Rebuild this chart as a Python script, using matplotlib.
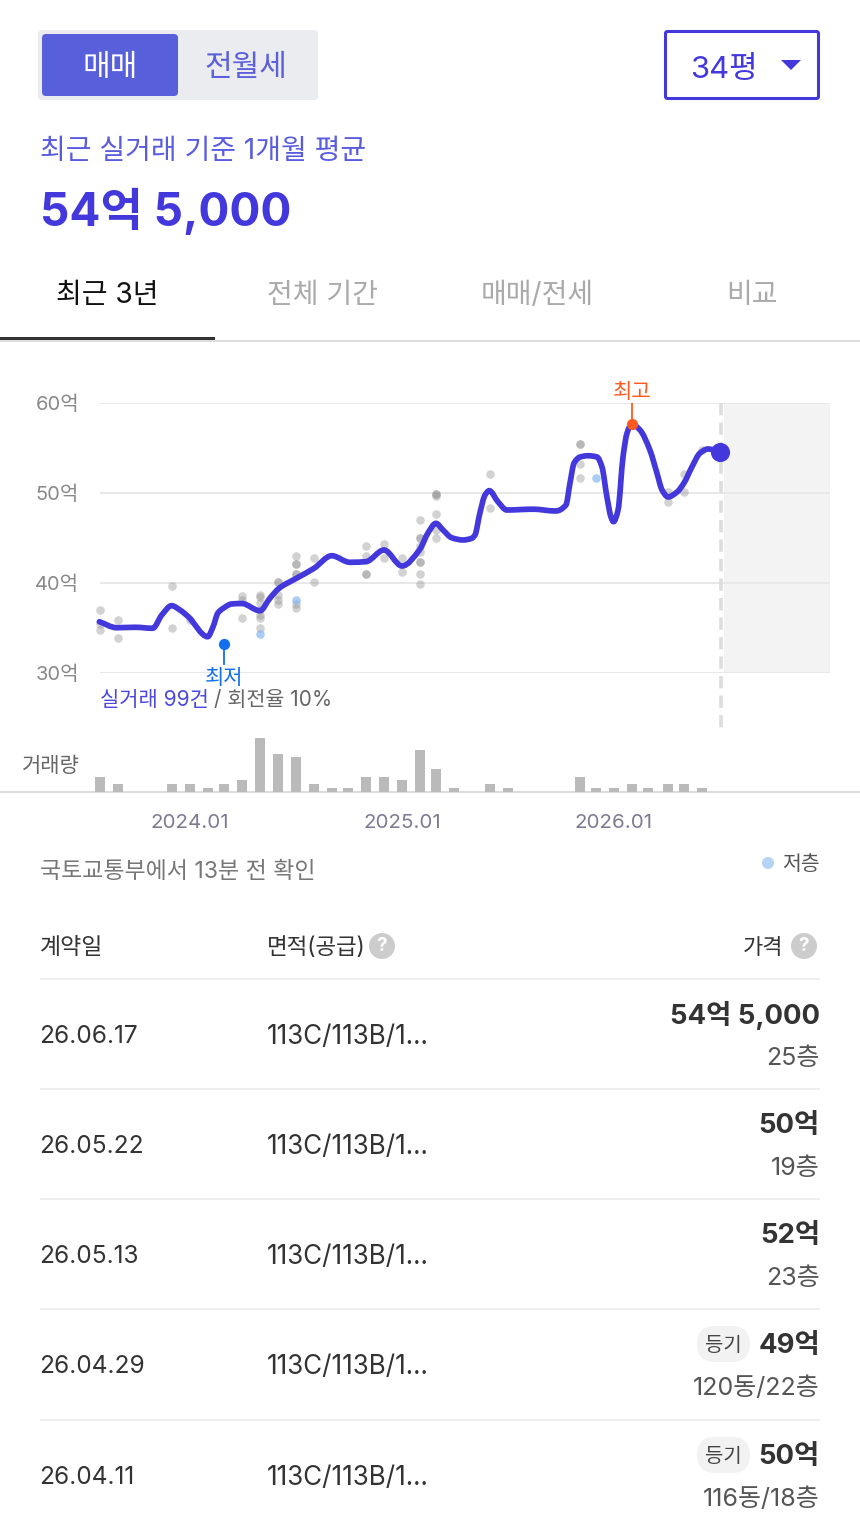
import matplotlib
matplotlib.use("Agg")
import matplotlib.pyplot as plt
import numpy as np
from matplotlib.patches import FancyBboxPatch, Rectangle, Circle, Polygon, PathPatch
from matplotlib.path import Path

plt.rcParams['font.family'] = ['Inter', 'Noto Sans CJK KR', 'DejaVu Sans']

W, H = 860, 1530

# months counted from 2024.01
line_months = [-5.13, -4.15, -3.11, -2.11, -1.6, -1.04, -0.57, -0.1, 1.0, 1.3, 1.58, 1.88, 2.36, 2.93, 3.96, 4.53, 5.04,
               6.0, 7.02, 8.02, 9.05, 9.96, 10.98, 12.0, 13.02, 13.47, 13.92, 14.32, 14.81, 15.45, 15.95, 16.13, 16.41,
               16.7, 16.94, 17.43, 17.93, 19.41, 20.7, 21.28, 21.51, 21.74, 22.08, 22.53, 23.04, 23.32, 23.6, 23.83,
               23.97, 24.23, 24.51, 24.74, 25.0, 25.47, 26.03, 26.43, 26.72, 27.06, 27.57, 27.96, 28.41, 28.87, 29.32,
               30.0]
line_prices = [35.7, 35.03, 35.08, 34.97, 36.44, 37.48, 37.0, 36.26, 34.03, 35.11, 36.67, 37.19, 37.67, 37.72, 36.92,
               38.33, 39.41, 40.5, 41.63, 43.03, 42.3, 42.37, 43.67, 41.89, 43.78, 45.56, 46.63, 45.89, 45.03, 44.78,
               44.97, 45.33, 47.78, 49.78, 50.26, 49.03, 48.11, 48.2, 48.0, 48.67, 51.11, 53.33, 54.0, 54.14, 54.0,
               52.89, 49.56, 47.33, 46.81, 48.11, 54.0, 56.67, 57.67, 57.0, 54.78, 52.22, 50.33, 49.56, 50.11, 51.11,
               52.89, 54.44, 54.89, 54.56]

deal_months = [-5.09, -5.09, -5.09, -4.07, -4.07, -1.02, -1.02, 0, 2.94, 2.94, 2.94,
               3.96, 3.96, 3.96, 3.96, 3.96, 3.96, 3.96, 4.98, 4.98, 4.98, 4.98, 4.98,
               6, 6, 6, 6, 6, 6, 6, 7.02, 7.02, 9.96, 9.96, 9.96, 9.96, 10.98, 10.98, 12, 12,
               13.02, 13.02, 13.02, 13.02, 13.02, 13.02, 13.02, 13.02, 13.02,
               13.92, 13.92, 13.92, 13.92, 13.92, 13.92, 16.98, 16.98, 22.07, 22.07, 22.07, 22.07,
               27.05, 27.05, 27.96, 27.96, 28.98]
deal_prices = [37.0, 35.44, 34.8, 35.9, 33.9, 39.7, 35.0, 35.9, 38.6, 38.1, 36.1,
               38.7, 38.5, 37.8, 37.0, 36.5, 36.1, 35.0, 40.1, 40.1, 38.7, 38.1, 37.7,
               43.0, 42.1, 42.1, 41.0, 41.0, 37.7, 37.2, 42.8, 40.1, 44.1, 43.0, 41.0, 41.0, 44.3, 42.8, 42.8, 41.2,
               47.0, 45.0, 45.0, 44.1, 42.3, 42.3, 41.0, 39.9, 43.5,
               49.9, 49.9, 49.7, 47.7, 45.9, 45.0, 52.1, 48.3, 55.4, 55.4, 53.2, 51.7, 50.1, 49.0, 52.1, 50.1, 54.8]
low_floor_months = [3.96, 6, 22.98]
low_floor_prices = [34.3, 38.1, 51.7]

volume_months = [-5.09, -4.07, -1.02, 0, 1.02, 1.92, 2.94, 3.96, 4.98, 6, 7.02, 8.04, 8.94, 9.96, 10.98, 12, 13.02,
                 13.92, 14.94, 16.98, 18, 22.07, 22.98, 24, 25.02, 25.92, 27.05, 27.96, 28.98]
volumes = [4, 2, 2, 2, 1, 2, 3, 14, 10, 9, 2, 1, 1, 4, 4, 3, 11, 6, 1, 2, 1, 4, 1, 1, 2, 1, 2, 2, 1]

y_ticks = [60, 50, 40, 30]
x_tick_months = [0, 12, 24]
x_tick_labels = ['2024.01', '2025.01', '2026.01']

dates = ['26.06.17', '26.05.22', '26.05.13', '26.04.29', '26.04.11']
areas = ['113C/113B/1...'] * 5
prices = ['54억 5,000', '50억', '52억', '49억', '50억']
floors = ['25층', '19층', '23층', '120동/22층', '116동/18층']
registered = [False, False, False, True, True]

INDIGO = '#4338dc'
SOFT = '#5a5ce0'


def px(size):
    return size * 0.72


def smooth_path(xs, ys):
    # monotone cubic handed to matplotlib as bezier segments, flat at each turn
    xs, ys = np.array(xs), np.array(ys)
    dx = np.diff(xs)
    sl = np.diff(ys) / dx
    m = np.zeros(len(xs))
    for i in range(1, len(xs) - 1):
        if sl[i - 1] * sl[i] > 0:
            w1, w2 = 2 * dx[i] + dx[i - 1], dx[i] + 2 * dx[i - 1]
            m[i] = (w1 + w2) / (w1 / sl[i - 1] + w2 / sl[i])
    m[0], m[-1] = sl[0], sl[-1]
    verts = [(xs[0], ys[0])]
    codes = [Path.MOVETO]
    for i in range(len(dx)):
        h = dx[i] / 3
        verts += [(xs[i] + h, ys[i] + m[i] * h), (xs[i + 1] - h, ys[i + 1] - m[i + 1] * h), (xs[i + 1], ys[i + 1])]
        codes += [Path.CURVE4] * 3
    return Path(verts, codes)


fig = plt.figure(figsize=(W / 100, H / 100), dpi=100)

# page layer, in pixels
bg = fig.add_axes([0, 0, 1, 1])
bg.set_xlim(0, W)
bg.set_ylim(H, 0)
bg.axis('off')


def label(x, y, s, size, color='#333333', ha='left', weight='normal'):
    bg.text(x, y + size * 0.1, s, fontsize=px(size), color=color, ha=ha, va='center', fontweight=weight)


def rule(x0, x1, y, color, lw):
    bg.plot([x0, x1], [y, y], color=color, lw=lw, solid_capstyle='butt')


def box(x0, y0, x1, y1, r, **kw):
    bg.add_patch(FancyBboxPatch((x0 + r, y0 + r), x1 - x0 - 2 * r, y1 - y0 - 2 * r,
                                boxstyle=f'round,pad={r},rounding_size={r}', **kw))


box(38, 30, 318, 100, 4, fc='#ebecef', ec='none')
box(42, 34, 178, 96, 4, fc='#585fdb', ec='none')
label(110, 65, '매매', 30, 'white', 'center')
label(246, 65, '전월세', 30, '#5b5fdc', 'center')
box(665.5, 31.5, 818.5, 98.5, 2, fc='white', ec=INDIGO, lw=2.2)
label(724, 67, '34평', 31, INDIGO, 'center')
bg.add_patch(Polygon([[781, 60], [801, 60], [791, 70]], fc=INDIGO, ec='none'))

label(40, 149, '최근 실거래 기준 1개월 평균', 28, SOFT)
label(40, 208, '54억 5,000', 46, INDIGO, weight='bold')

for x, s, c in zip([107, 322, 537, 752], ['최근 3년', '전체 기간', '매매/전세', '비교'],
                   ['#111111', '#aaaaaa', '#aaaaaa', '#aaaaaa']):
    label(x, 293, s, 28, c, 'center')
rule(0, W, 341, '#dddddd', 1.4)
bg.add_patch(Rectangle((0, 336.5), 215, 3.5, fc='#333333', ec='none'))

# price chart: 60억 at y=403, 30억 at y=673, 2024.01 at x=190, 212px a year
month_px = 212 / 12
xlim = ((100 - 190) / month_px, (830 - 190) / month_px)
ax = fig.add_axes([100 / W, 1 - 673 / H, 730 / W, 270 / H])
ax.set_xlim(xlim)
ax.set_ylim(30, 60)
ax.patch.set_alpha(0)
for s in ax.spines.values():
    s.set_visible(False)
ax.set_xticks([])
ax.set_yticks(y_ticks)
ax.set_yticklabels([f'{v}억' for v in y_ticks], fontsize=px(20), color='#888888')
ax.tick_params(axis='y', length=0, pad=15)
ax.axvspan(30.2, xlim[1], color='#f3f3f3', lw=0, zorder=0)
ax.grid(axis='y', color='#e8e8e8', lw=1.4, zorder=1)
ax.set_axisbelow(True)
ax.plot([30.05, 30.05], [60, 23.6], color='#dddddd', lw=2.6, ls=(0, (3.4, 2)), clip_on=False, zorder=2)

ax.scatter(deal_months, deal_prices, s=38, color='#8f8f8f', alpha=0.4, lw=0, zorder=3, clip_on=False)
ax.scatter(low_floor_months, low_floor_prices, s=38, color='#7fb2ee', alpha=0.65, lw=0, zorder=3)
ax.add_patch(PathPatch(smooth_path(line_months, line_prices), fc='none', ec=INDIGO, lw=4.1,
                       capstyle='round', joinstyle='round', zorder=4, clip_on=False))
ax.scatter([30], [54.6], s=190, color=INDIGO, lw=0, zorder=5, clip_on=False)

ax.plot([25, 25], [57.67, 60], color='#ff5a1f', lw=1.3, zorder=5)
ax.scatter([25], [57.67], s=65, color='#ff5a1f', lw=0, zorder=6)
ax.text(25, 61.2, '최고', fontsize=px(21), color='#ff5a1f', ha='center', va='center')
ax.plot([1.92, 1.92], [33.2, 31], color='#1270f0', lw=1.3, zorder=5)
ax.scatter([1.92], [33.2], s=65, color='#1270f0', lw=0, zorder=6)
ax.text(1.92, 29.5, '최저', fontsize=px(21), color='#1270f0', ha='center', va='center', zorder=6)

label(100, 698, '실거래 99건', 21, '#4d48e0')
label(214, 698, '/ 회전율 10%', 20.7, '#666666')

# volume bars
vol = fig.add_axes([100 / W, 1 - 792 / H, 730 / W, 57.75 / H])
vol.set_xlim(xlim)
vol.set_ylim(0, 15)
vol.patch.set_alpha(0)
vol.bar(volume_months, volumes, width=10 / month_px, color='#bababa', lw=0, clip_on=False)
vol.axis('off')
label(80, 764, '거래량', 21, '#666666', 'right')
rule(0, W, 792, '#dddddd', 1.5)
for m, s in zip(x_tick_months, x_tick_labels):
    label(190 + m * month_px, 821, s, 20.5, '#7d7a92', 'center')

label(40, 870, '국토교통부에서 13분 전 확인', 23, '#777777')
bg.add_patch(Circle((768, 863), 6, fc='#b5d3f5', ec='none'))
label(782, 863, '저층', 20.5, '#555555')

# table
label(40, 946, '계약일', 23)
label(267, 946, '면적(공급)', 22.5)
label(783, 946, '가격', 22, ha='right')
for cx in [382, 804]:
    bg.add_patch(Circle((cx, 946), 13, fc='#cccccc', ec='none'))
    bg.text(cx, 946, '?', fontsize=px(19), color='white', ha='center', va='center', fontweight='bold')

row_tops = [979, 1089, 1199, 1309, 1420]
for top, d, a, p, f, reg in zip(row_tops, dates, areas, prices, floors, registered):
    rule(40, 820, top, '#eeeeee', 1.4)
    label(39, top + 55, d, 24.5)
    label(267, top + 55, a, 26)
    label(820, top + 34, p, 27.5, ha='right', weight='bold')
    label(820, top + 77, f, 25, '#555555', 'right')
    if reg:
        box(697, top + 17, 750, top + 53, 18, fc='#f2f2f2', ec='none')
        label(723.5, top + 35, '등기', 20, '#444444', 'center')

fig.savefig('out.png', dpi=100)
